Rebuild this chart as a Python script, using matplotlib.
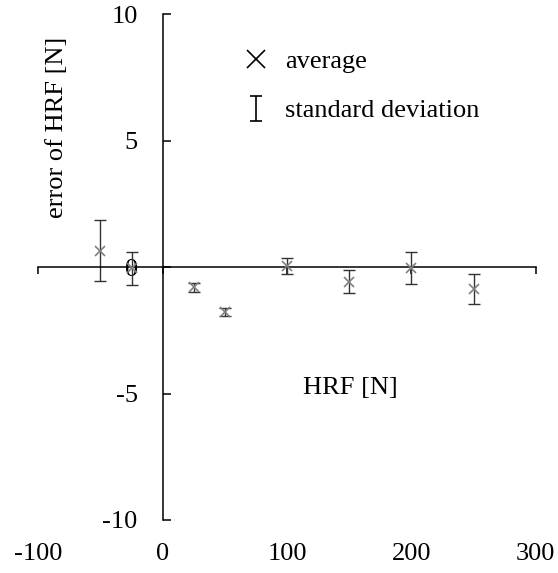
import numpy as np
import matplotlib
matplotlib.use("Agg")
import matplotlib.pyplot as plt
from matplotlib.lines import Line2D
from matplotlib.path import Path

# ── data ─────────────────────────────────────────────────────────────────────
hrf = [-50, -25, 25, 50, 100, 150, 200, 250]
err_mean = [0.65, -0.05, -0.80, -1.78, 0.05, -0.58, -0.05, -0.88]
err_sd = [1.20, 0.65, 0.18, 0.15, 0.32, 0.45, 0.63, 0.60]

x_ticks = [-100, 0, 100, 200, 300]
y_ticks = [-10, -5, 0, 5, 10]

FS = 19

plt.rcParams.update({
    "font.family": ["Liberation Serif", "DejaVu Serif"],
    "font.size": FS,
})

fig = plt.figure(figsize=(5.58, 5.73), dpi=100)
ax = fig.add_axes([0.0686, 0.0925, 0.8914, 0.883])

ax.errorbar(hrf, err_mean, yerr=err_sd, fmt="none", ecolor="#333333",
            elinewidth=1.0, capsize=4, capthick=1.0, zorder=2)
ax.plot(hrf, err_mean, ls="none", marker="x", ms=7, mew=1.2,
        color="#808080", zorder=3)

ax.set_xlim(-100, 300)
ax.set_ylim(-10, 10)

# axes crossing at the origin
for s in ("top", "right"):
    ax.spines[s].set_visible(False)
ax.spines["left"].set_position(("data", 0))
ax.spines["bottom"].set_position(("data", 0))
for s in ("left", "bottom"):
    ax.spines[s].set_linewidth(1.1)

ax.set_yticks(y_ticks)
ax.set_yticklabels([str(v) for v in y_ticks])
ax.tick_params(axis="y", direction="in", length=6, width=1.1, pad=18,
               labelsize=FS)
ax.set_xticks(x_ticks)
ax.tick_params(axis="x", direction="out", length=5, width=1.1,
               labelbottom=False)

# x tick labels at the bottom of the figure
for v in x_ticks:
    ax.text(v, -0.067, str(v), transform=ax.get_xaxis_transform(),
            ha="center", va="center", fontsize=FS)

# axis titles
fig.text(57 / 558, 1 - 127 / 573, "error of HRF [N]", rotation=90,
         ha="center", va="center", fontsize=FS)
fig.text(350 / 558, 1 - 388 / 573, "HRF [N]", ha="center", va="center",
         fontsize=FS)

# legend
ibar = Path([(-0.5, -1), (0.5, -1), (0, -1), (0, 1), (-0.5, 1), (0.5, 1)],
            [Path.MOVETO, Path.LINETO, Path.MOVETO, Path.LINETO,
             Path.MOVETO, Path.LINETO])
handles = [
    Line2D([], [], ls="none", marker="x", ms=13, mew=1.2, color="black"),
    Line2D([], [], ls="none", marker=ibar, ms=18, mew=1.2, color="black"),
]
ax.legend(handles, ["average", "standard deviation"], frameon=False,
          loc="upper left", bbox_to_anchor=(240 / 558, 1 - 50 / 573),
          bbox_transform=fig.transFigure, handlelength=1.2,
          handletextpad=0.5, labelspacing=0.95, fontsize=FS,
          borderaxespad=0, borderpad=0)

fig.savefig("out.png", dpi=100)
